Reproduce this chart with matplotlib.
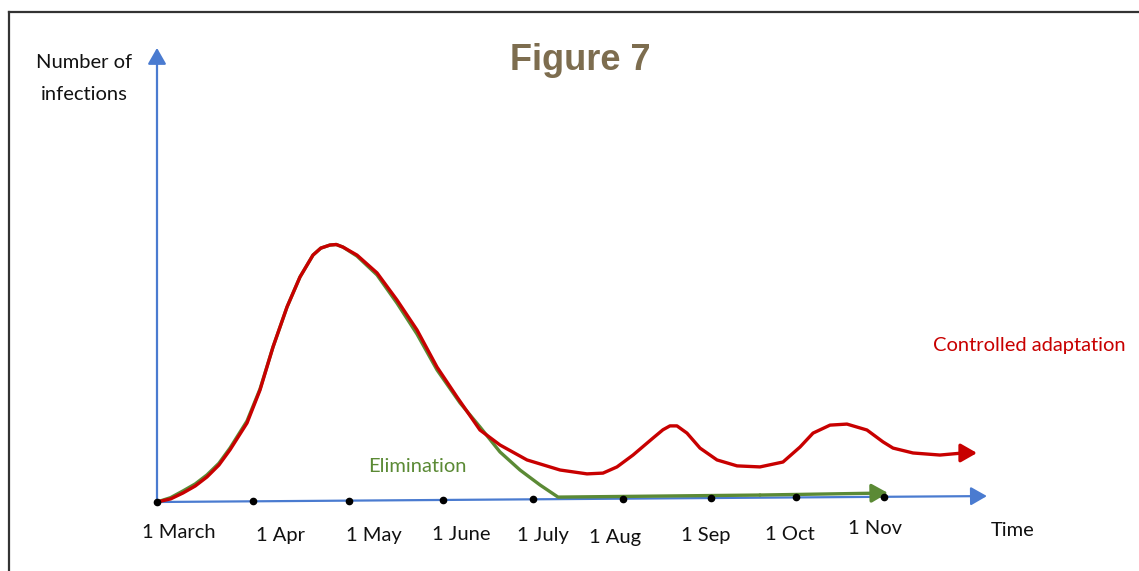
import matplotlib
matplotlib.use("Agg")
import matplotlib.pyplot as plt
from matplotlib.lines import Line2D

# x in months after 1 March (as drawn), y in relative infections (peak = 100)
tick_labels = ['1 March', '1 Apr', '1 May', '1 June', '1 July', '1 Aug', '1 Sep', '1 Oct', '1 Nov']
tick_x = [0, 1.055, 2.11, 3.14, 4.13, 5.12, 6.09, 7.02, 7.99]

adapt_x = [0, 0.15, 0.286, 0.42, 0.549, 0.68, 0.802, 0.989, 1.132, 1.275, 1.429, 1.571,
           1.714, 1.80, 1.901, 1.97, 2.044, 2.198, 2.418, 2.637, 2.857, 3.077, 3.297,
           3.549, 3.769, 4.066, 4.429, 4.725, 4.901, 5.055, 5.231, 5.451, 5.56, 5.637,
           5.714, 5.824, 5.967, 6.154, 6.374, 6.626, 6.879, 7.066, 7.209, 7.396, 7.582,
           7.802, 7.978, 8.088, 8.308, 8.604, 8.857, 9.011]
adapt_y = [0, 1.2, 3.5, 6.2, 9.7, 14.3, 20.2, 30.6, 43.4, 60.1, 75.6, 87.2,
           95.7, 98.4, 99.6, 99.8, 98.8, 95.7, 88.8, 78.3, 66.7, 52.3, 40.7,
           27.9, 22.1, 16.3, 12.4, 10.9, 11.2, 13.6, 18.2, 24.8, 28.0, 29.5,
           29.5, 26.7, 20.9, 16.3, 14.0, 13.6, 15.5, 21.3, 26.7, 29.8, 30.2,
           27.9, 23.3, 20.9, 19.0, 18.2, 19.0, 19.0]

elim_x = [0, 0.15, 0.286, 0.42, 0.549, 0.68, 0.802, 0.989, 1.132, 1.275, 1.429, 1.571,
          1.714, 1.80, 1.901, 1.97, 2.044, 2.198, 2.418, 2.637, 2.857, 3.077, 3.330,
          3.549, 3.769, 3.989, 4.209, 4.407, 6.626, 8.033]
elim_y = [0, 1.7, 4.3, 7.0, 10.5, 15.0, 20.9, 31.4, 43.8, 60.1, 75.6, 87.2,
          95.7, 98.4, 99.6, 99.8, 98.8, 95.3, 88.0, 77.1, 65.1, 51.2, 38.4,
          29.1, 19.4, 12.4, 6.6, 1.9, 2.7, 3.5]

axis_end = (9.12, 2.3)
yaxis_top = 176

W, H = 1139, 571
RED = '#c80000'
GREEN = '#5b8a35'
BLUE = '#4a7bd0'
FONT = ['Lato', 'DejaVu Sans']
FS = 14.5

fig = plt.figure(figsize=(W / 100, H / 100), dpi=100)
ax = fig.add_axes([0, 0, 1, 1])
ax.set_xlim(-157 / 91, (W - 157) / 91)
ax.set_ylim(-(H - 502) / 2.58, 502 / 2.58)
ax.axis('off')


def arrow(ax, p0, p1, color, lw):
    ax.annotate('', xy=p1, xytext=p0,
                arrowprops=dict(arrowstyle='-|>,head_length=0.7,head_width=0.4',
                                color=color, lw=lw, shrinkA=0, shrinkB=0,
                                mutation_scale=14))


# axes drawn as arrows
arrow(ax, (0, 0), axis_end, BLUE, 1.6)
arrow(ax, (0, 0), (0, yaxis_top), BLUE, 1.6)
dot_y = [axis_end[1] * x / axis_end[0] for x in tick_x]
ax.plot(tick_x, dot_y, 'o', color='black', ms=4.5, zorder=5)

# curves
ax.plot(elim_x[:-1], elim_y[:-1], color=GREEN, lw=2.4, solid_capstyle='round',
        solid_joinstyle='round', zorder=3)
arrow(ax, (elim_x[-2], elim_y[-2]), (elim_x[-1], elim_y[-1]), GREEN, 2.4)
ax.plot(adapt_x[:-1], adapt_y[:-1], color=RED, lw=2.4, solid_capstyle='round',
        solid_joinstyle='round', zorder=4)
arrow(ax, (adapt_x[-2], adapt_y[-2]), (adapt_x[-1], adapt_y[-1]), RED, 2.4)

# text
def ptext(x, y, s, **kw):
    fig.text(x / W, 1 - y / H, s, ha='center', va='center', **kw)

label_px = [(179, 532), (281, 535), (374, 535), (461, 535), (543, 535),
            (615, 537), (706, 535), (790, 534), (875, 529)]
for lab, (lx, ly) in zip(tick_labels, label_px):
    ptext(lx, ly, lab, fontsize=FS, color='#111111', family=FONT)
ptext(1013, 530, 'Time', fontsize=FS, color='#111111', family=FONT)
ptext(84, 62, 'Number of', fontsize=FS, color='#111111', family=FONT)
ptext(84, 94, 'infections', fontsize=FS, color='#111111', family=FONT)
ptext(580, 60, 'Figure 7', fontsize=26, fontweight='bold', color='#7d6d4f',
      family=['Liberation Sans', 'DejaVu Sans'])
ptext(1029, 346, 'Controlled adaptation', fontsize=FS, color=RED, family=FONT)
ptext(417, 467, 'Elimination', fontsize=FS, color=GREEN, family=FONT)

# frame edges (top and left only)
fig.add_artist(Line2D([9 / W, 1], [1 - 12 / H, 1 - 12 / H], color='#333333', lw=1.6))
fig.add_artist(Line2D([9 / W, 9 / W], [0, 1 - 12 / H], color='#333333', lw=1.6))

fig.savefig('out.png', dpi=100)
